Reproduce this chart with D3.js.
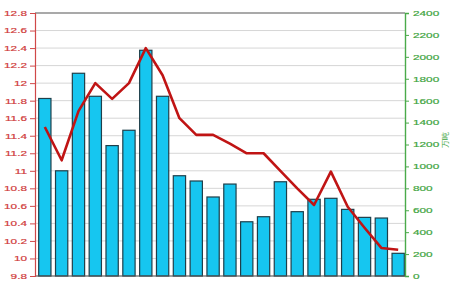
<!DOCTYPE html>
<html>
<head>
<meta charset="utf-8">
<script src="https://cdn.jsdelivr.net/npm/d3@7"></script>
<style>
html,body{margin:0;padding:0;background:#fff;overflow:hidden;}
svg{display:block;font-family:Arial,"Liberation Sans",sans-serif;}
</style>
</head>
<body>
<svg id="chart" width="450" height="291"></svg>
<script>
const categories = ["1","2","3","4","5","6","7","8","9","10","11","12","13","14","15","16","17","18","19","20","21","22"];
const barValues = [1620,960,1850,1640,1190,1330,2060,1640,915,867,721,839,495,541,860,587,700,709,608,535,529,207];
const lineValues = [11.5,11.12,11.68,12.0,11.82,12.0,12.4,12.09,11.6,11.41,11.41,11.31,11.2,11.2,11.0,10.8,10.61,10.99,10.59,10.35,10.12,10.1];
const leftTicks = d3.range(9.8, 12.81, 0.2).map(v => +v.toFixed(1));
const rightTicks = d3.range(0, 2401, 200);
const rightTitle = "万吨";

const svg = d3.select("#chart");
const L = 35, R = 405, T = 13, B = 276;
const SY = 0.63;

const x = d3.scaleBand().domain(categories).range([37, 406]).paddingInner(0.27).paddingOuter(0.1);
const yL = d3.scaleLinear().domain([9.8, 12.8]).range([B, T]);
const yR = d3.scaleLinear().domain([0, 2400]).range([B, T]);

// gridlines
svg.append("g").selectAll("line").data(leftTicks).join("line")
  .attr("x1", L).attr("x2", R)
  .attr("y1", d => yL(d)).attr("y2", d => yL(d))
  .attr("stroke", d => d === 12.8 ? "#555" : "#d6d6d6")
  .attr("stroke-width", d => d === 12.8 ? 1.2 : 1);

// bars
svg.append("g").selectAll("rect").data(barValues).join("rect")
  .attr("x", (d, i) => x(categories[i]))
  .attr("width", x.bandwidth())
  .attr("y", d => yR(d))
  .attr("height", d => B - yR(d))
  .attr("fill", "#16c6f0")
  .attr("stroke", "#1f3f4a")
  .attr("stroke-width", 1.2);

// bottom baseline
svg.append("line").attr("x1", L).attr("x2", R).attr("y1", B).attr("y2", B)
  .attr("stroke", "#555").attr("stroke-width", 1);

// line
const line = d3.line()
  .x((d, i) => x(categories[i]) + x.bandwidth() / 2)
  .y(d => yL(d));
svg.append("path").datum(lineValues)
  .attr("d", line)
  .attr("fill", "none")
  .attr("stroke", "#c01414")
  .attr("stroke-width", 2.6)
  .attr("stroke-linejoin", "round");

// left axis
const gL = svg.append("g").attr("transform", `translate(${L},0)`)
  .call(d3.axisLeft(yL).tickValues(leftTicks).tickSize(5).tickPadding(3).tickFormat(d3.format("~g")));
gL.select(".domain").attr("stroke", "#d04848").attr("stroke-width", 1.2);
gL.selectAll(".tick line").attr("stroke", "#d04848");
gL.selectAll(".tick text").attr("fill", "#d03c3c").attr("font-size", 11.8)
  .attr("transform", `scale(1,${SY})`).attr("stroke", "#d03c3c").attr("stroke-width", 0.3);

// right axis
const gR = svg.append("g").attr("transform", `translate(${R},0)`)
  .call(d3.axisRight(yR).tickValues(rightTicks).tickSize(4).tickPadding(4).tickFormat(d3.format("d")));
gR.select(".domain").attr("stroke", "#4aaa4a").attr("stroke-width", 1.4);
gR.selectAll(".tick line").attr("stroke", "#4aaa4a");
gR.selectAll(".tick text").attr("fill", "#3ea43e").attr("font-size", 11.8)
  .attr("transform", `scale(1,${SY})`).attr("stroke", "#3ea43e").attr("stroke-width", 0.3);

// right axis title at the right edge
svg.append("text").attr("transform", "translate(448,140) rotate(-90)")
  .attr("text-anchor", "middle").attr("fill", "#3ea43e").attr("font-size", 8)
  .text(rightTitle);
</script>
</body>
</html>
